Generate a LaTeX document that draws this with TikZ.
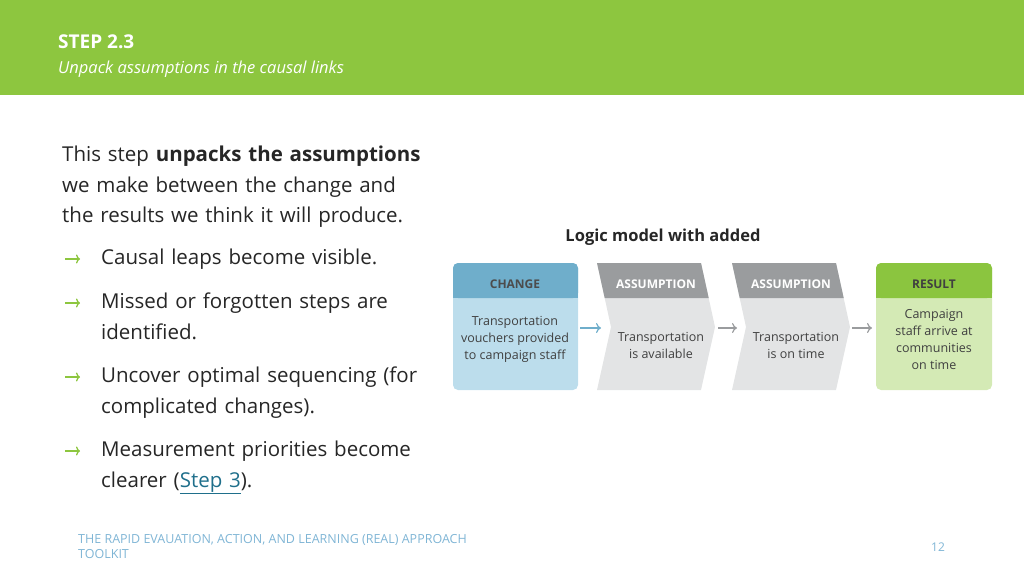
\documentclass[tikz,border=0pt]{standalone}
\usepackage{fontspec}
\setmainfont{Open Sans}
\usetikzlibrary{positioning,arrows.meta}
\definecolor{slidegreen}{HTML}{8DC63F}
\definecolor{chgdark}{HTML}{6FAECB}
\definecolor{chglight}{HTML}{BCDDEC}
\definecolor{asmdark}{HTML}{9A9C9E}
\definecolor{asmlight}{HTML}{E3E4E5}
\definecolor{resdark}{HTML}{8BC53F}
\definecolor{reslight}{HTML}{D4EAB5}
\definecolor{footblue}{HTML}{7FB5D5}
\definecolor{linkteal}{HTML}{1F6F8B}
\tikzset{
  head/.style={font=\bfseries\fontsize{12}{14}\selectfont},
  body/.style={font=\fontsize{12.5}{17}\selectfont,align=center,text=black!75},
  arr/.style={-{To[length=5pt,width=10pt]},line width=1.2pt},
  bul/.style={anchor=north west,align=left,text width=400pt,font=\fontsize{20.5}{30.5}\selectfont,text=black!85}
}
\begin{document}
\begin{tikzpicture}[x=1pt,y=-1pt]
\useasboundingbox (0,0) rectangle (1024,575);
\fill[slidegreen] (0,0) rectangle (1024,95);
\node[anchor=west,inner sep=0,text=white,font=\bfseries\fontsize{19}{22}\selectfont] (title) at (58,42) {STEP 2.3};
\node[anchor=west,inner sep=0,text=white,font=\itshape\fontsize{16.5}{20}\selectfont] (subtitle) at (58,69) {Unpack assumptions in the causal links};

% left text
\node[bul,inner sep=0] (intro) at (62,146) {This step \textbf{unpacks the assumptions}\\we make between the change and\\the results we think it will produce.};
\foreach \y/\t in {249/{Causal leaps become visible.},
                   293/{Missed or forgotten steps are\\identified.},
                   367/{Uncover optimal sequencing (for\\complicated changes).},
                   441/{Measurement priorities become\\clearer (\textcolor{linkteal}{\underline{Step 3}}).}}{
  \draw[-{To[length=4pt,width=9pt]},slidegreen,line width=1.3pt] (65,\y+10) -- (80,\y+10);
  \node[bul,inner sep=0] at (101,\y) {\t};
}

\node[font=\bfseries\fontsize{16.5}{20}\selectfont,text=black!85] (mtitle) at (663,237) {Logic model with added};

% change box
\fill[chglight,rounded corners=5pt] (453,263) rectangle (578,390);
\fill[chgdark,rounded corners=5pt] (453,263) rectangle (578,298);
\fill[chgdark] (453,290) rectangle (578,298);
% assumptions
\foreach \xa/\nm in {597/asma,732/asmb}{
  \fill[asmlight] (\xa,263) -- (\xa+104,263) -- (\xa+118,327) -- (\xa+104,390) -- (\xa,390) -- (\xa+14,327) -- cycle;
  \fill[asmdark] (\xa,263) -- (\xa+104,263) -- (\xa+111.7,298) -- (\xa+7.7,298) -- cycle;
}
% result
\fill[reslight,rounded corners=5pt] (876,263) rectangle (992,390);
\fill[resdark,rounded corners=5pt] (876,263) rectangle (992,298);
\fill[resdark] (876,290) rectangle (992,298);

\node[head,text=black!70] (chgh) at (515,284) {CHANGE};
\node[head,text=white] (asmah) at (656,284) {ASSUMPTION};
\node[head,text=white] (asmbh) at (791,284) {ASSUMPTION};
\node[head,text=black!75] (resh) at (934,284) {RESULT};
\node[body] (chg) at (515,339) {Transportation\\vouchers provided\\to campaign staff};
\node[body] (asma) at (661,345) {Transportation\\is available};
\node[body] (asmb) at (796,345) {Transportation\\is on time};
\node[body] (res) at (934,339) {Campaign\\staff arrive at\\communities\\on time};

\coordinate (c1) at (580,328); \coordinate (c2) at (601,328);
\coordinate (c3) at (718,328); \coordinate (c4) at (737,328);
\coordinate (c5) at (852,328); \coordinate (c6) at (872,328);
\draw[arr,chgdark] (c1) -- (c2);
\draw[arr,asmdark] (c3) -- (c4);
\draw[arr,asmdark] (c5) -- (c6);

% footer
\node[anchor=north west,inner sep=0,align=left,text=footblue,font=\fontsize{12.5}{15.5}\selectfont] (foot) at (78,534) {THE RAPID EVAUATION, ACTION, AND LEARNING (REAL) APPROACH\\TOOLKIT};
\node[text=footblue,font=\fontsize{12}{13}\selectfont] (page) at (938,547) {12};
\end{tikzpicture}
\end{document}
